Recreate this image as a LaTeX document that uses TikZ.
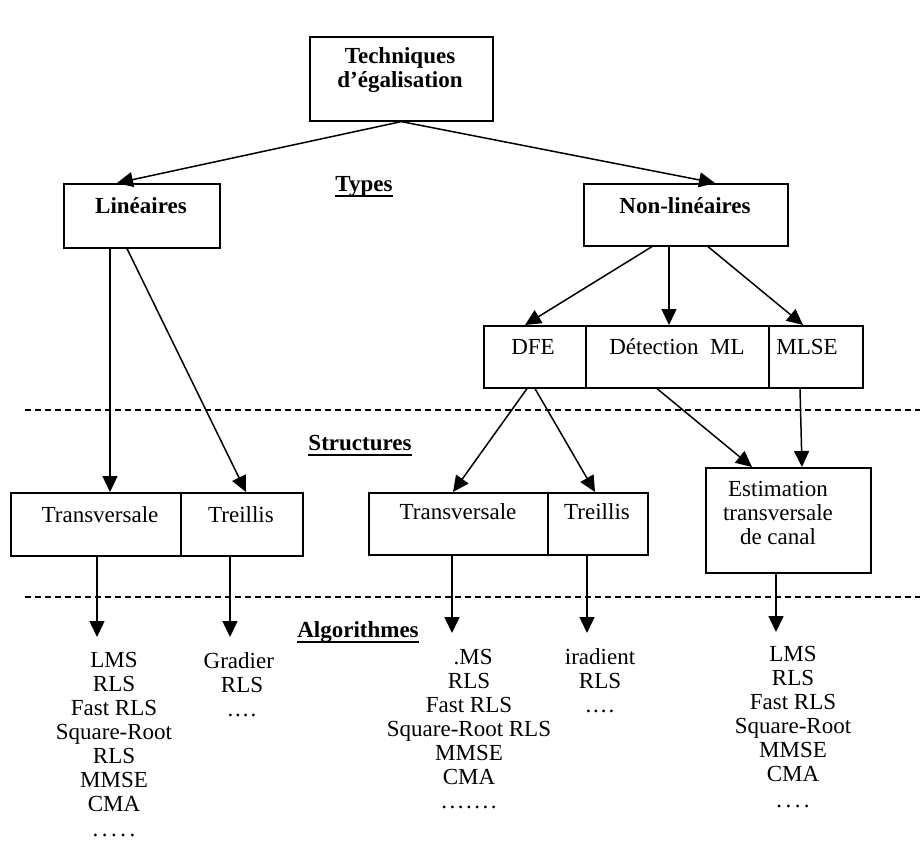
\documentclass[tikz,border=0pt]{standalone}
\usepackage{fontspec}
\setmainfont{Liberation Serif}
\usetikzlibrary{arrows.meta,calc}

\begin{document}
\begin{tikzpicture}[x=1pt,y=-1pt,
  box/.style={draw, line width=1.6pt, rectangle, inner sep=0pt, anchor=north west},
  lbl/.style={font=\fontsize{23}{24}\selectfont, inner sep=0pt, align=center},
  bold/.style={font=\fontsize{23}{24}\selectfont\bfseries, inner sep=0pt, align=center},
  head/.style={bold, anchor=base},
  uline/.style={line width=1.8pt},
  arr/.style={line width=1.5pt, -{Triangle[length=16pt,width=15pt]}},
  sep/.style={line width=1.3pt, dash pattern=on 6pt off 4pt},
  alglist/.style={lbl, anchor=north},
]
\fill[white] (0,0) rectangle (923,841);
\useasboundingbox (0,0) rectangle (923,841);

% ---- boxes ----
\node[box, minimum width=183pt, minimum height=84pt] (tech)   at (309,36)  {};
\node[box, minimum width=156pt, minimum height=64pt] (lin)    at (63,183)  {};
\node[box, minimum width=204pt, minimum height=62pt] (nonlin) at (583,183) {};
\node[box, minimum width=102pt, minimum height=62pt] (dfe)    at (483,325) {};
\node[box, minimum width=183pt, minimum height=62pt] (det)    at (585,325) {};
\node[box, minimum width=94pt,  minimum height=62pt] (mlse)   at (768,325) {};
\node[box, minimum width=170pt, minimum height=63pt] (tra)    at (10,492)  {};
\node[box, minimum width=122pt, minimum height=63pt] (tla)    at (180,492) {};
\node[box, minimum width=179pt, minimum height=62pt] (trb)    at (368,492) {};
\node[box, minimum width=100pt, minimum height=62pt] (tlb)    at (547,492) {};
\node[box, minimum width=165pt, minimum height=105pt] (est)   at (705,467) {};

% ---- box labels ----
\node[bold] (techtxt)   at (400,70)  {Techniques\\d’égalisation};
\node[bold] (lintxt)    at (141,206) {Linéaires};
\node[bold] (nonlintxt) at (685,206) {Non-linéaires};
\node[lbl]  (dfetxt)    at (533,347) {DFE};
\node[lbl]  (dettxt)    at (677,347) {Détection\enspace ML};
\node[lbl]  (mlsetxt)   at (807,347) {MLSE};
\node[lbl]  (tratxt)    at (100,515) {Transversale};
\node[lbl]  (tlatxt)    at (241,515) {Treillis};
\node[lbl]  (trbtxt)    at (458,512) {Transversale};
\node[lbl]  (tlbtxt)    at (597,512) {Treillis};
\node[lbl]  (esttxt)    at (778,513) {Estimation\\transversale\\de canal};

% ---- level headings ----
\node[head] (types) at (364,191) {Types};
\node[head] (struct) at (360,450) {Structures};
\node[head] (algo) at (358,637) {Algorithmes};
\foreach \h in {types,struct,algo}
  \draw[uline] ($(\h.base west)+(0,5)$) -- ($(\h.base east)+(0,5)$);

% ---- separators ----
\coordinate (s1l) at (25,410);  \coordinate (s1r) at (920,410);
\coordinate (s2l) at (25,597);  \coordinate (s2r) at (920,597);
\draw[sep] (s1l) -- (s1r);
\draw[sep] (s2l) -- (s2r);

% ---- connectors ----
\draw[arr] (tech.south) -- ($(lin.north west)+(54,0)$);
\draw[arr] (tech.south) -- ($(nonlin.north west)+(132,0)$);

\draw[arr] ($(lin.south west)+(47,0)$) -- ($(tra.north west)+(100,0)$);
\draw[arr] ($(lin.south west)+(64,0)$) -- ($(tla.north west)+(66,0)$);

\draw[arr] ($(nonlin.south west)+(69,0)$)  -- ($(dfe.north west)+(42,0)$);
\draw[arr] ($(nonlin.south west)+(86,0)$)  -- ($(det.north west)+(84,0)$);
\draw[arr] ($(nonlin.south west)+(125,0)$) -- ($(mlse.north west)+(35,0)$);

\draw[arr] ($(dfe.south west)+(44,0)$) -- ($(trb.north west)+(85,0)$);
\draw[arr] ($(dfe.south west)+(52,0)$) -- ($(tlb.north west)+(48,0)$);

\draw[arr] ($(det.south west)+(72,0)$)  -- ($(est.north west)+(47,0)$);
\draw[arr] ($(mlse.south west)+(32,0)$) -- ($(est.north west)+(97,0)$);

% ---- algorithm lists ----
\coordinate (e1) at (97,637);
\coordinate (e2) at (230,637);
\coordinate (e3) at (452,633);
\coordinate (e4) at (587,633);
\coordinate (e5) at (776,632);
\draw[arr] (tra.south west -| e1) -- (e1);
\draw[arr] (tla.south west -| e2) -- (e2);
\draw[arr] (trb.south west -| e3) -- (e3);
\draw[arr] (tlb.south west -| e4) -- (e4);
\draw[arr] (est.south west -| e5) -- (e5);

\node[alglist] (la) at (114,652) {LMS\\RLS\\Fast RLS\\Square-Root\\RLS\\MMSE\\CMA\\[1pt]
  .\kern3.5pt.\kern3.5pt.\kern3.5pt.\kern3.5pt.};
\node[alglist] (lb) at (242,652) {Gradier\hphantom{t}\\RLS\\.\kern2pt.\kern2pt.\kern2pt.};
\node[alglist] (lc) at (469,649) {\hphantom{L}\llap{.}MS\\RLS\\Fast RLS\\Square-Root RLS\\MMSE\\CMA\\
  .\kern2.5pt.\kern2.5pt.\kern2.5pt.\kern2.5pt.\kern2.5pt.\kern2.5pt.};
\node[alglist] (ld) at (600,648) {iradient\\RLS\\.\kern2pt.\kern2pt.\kern2pt.};
\node[alglist] (le) at (793,646) {LMS\\RLS\\Fast RLS\\Square-Root\\MMSE\\CMA\\[2pt]
  .\kern3.5pt.\kern3.5pt.\kern3.5pt.};
\end{tikzpicture}
\end{document}
